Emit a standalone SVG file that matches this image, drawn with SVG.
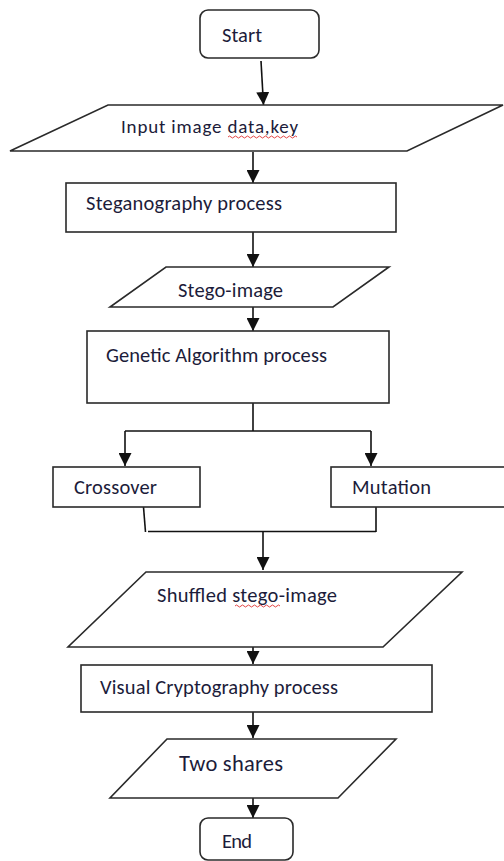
<svg xmlns="http://www.w3.org/2000/svg" width="504" height="861" viewBox="0 0 504 861">
  <style>
    .shape { fill: #ffffff; stroke: #2a2a2a; stroke-width: 1.6; }
    .link { fill: none; stroke: #111111; stroke-width: 1.6; }
    .label { font-family: Calibri, Carlito, "Liberation Sans", Arial, sans-serif; font-size: 20.5px; fill: #1c1c3a; }
    .squiggle { fill: none; stroke: #e03030; stroke-width: 0.9; }
  </style>
  <defs>
    <marker id="arrow" markerUnits="userSpaceOnUse" markerWidth="13" markerHeight="13" refX="13" refY="6.5" orient="auto">
      <path d="M0,0 L13,6.5 L0,13 Z" fill="#111111"/>
    </marker>
  </defs>
  <rect width="504" height="861" fill="#ffffff"/>

  <!-- connectors -->
  <g id="connectors">
    <path class="link" d="M261,61 L263.5,105" marker-end="url(#arrow)"/>
    <path class="link" d="M253,152 L253,183" marker-end="url(#arrow)"/>
    <path class="link" d="M253,232 L253,267" marker-end="url(#arrow)"/>
    <path class="link" d="M253,307 L253,331" marker-end="url(#arrow)"/>
    <path class="link" d="M253,403 L253,431"/>
    <path class="link" d="M125,431 L371,431"/>
    <path class="link" d="M125,431 L125,466" marker-end="url(#arrow)"/>
    <path class="link" d="M371,431 L371,466" marker-end="url(#arrow)"/>
    <path class="link" d="M143.5,507 L145.5,532"/>
    <path class="link" d="M148,531.5 L376,531.5"/>
    <path class="link" d="M376,507 L376,532"/>
    <path class="link" d="M263,531.5 L263,570" marker-end="url(#arrow)"/>
    <path class="link" d="M253,635 L253,664" marker-end="url(#arrow)"/>
    <path class="link" d="M253,712 L253,738" marker-end="url(#arrow)"/>
    <path class="link" d="M253,798 L253,818" marker-end="url(#arrow)"/>
  </g>

  <g id="start">
    <rect class="shape" x="200" y="10" width="119" height="48" rx="8" ry="8"/>
    <text class="label" x="222" y="42" textLength="40" lengthAdjust="spacing">Start</text>
  </g>

  <g id="input">
    <polygon class="shape" points="108,105 503,105 407,151 10,151"/>
    <text class="label" x="121" y="133" style="font-size:19px" textLength="177" lengthAdjust="spacing">Input image data,key</text>
    <path class="squiggle" d="M228,137 q1.5,-2 3,0 t3,0 t3,0 t3,0 t3,0 t3,0 t3,0 t3,0 t3,0 t3,0 t3,0 t3,0 t3,0 t3,0 t3,0 t3,0 t3,0 t3,0 t3,0 t3,0 t3,0 t3,0 t3,0"/>
  </g>

  <g id="steganography">
    <rect class="shape" x="66" y="183" width="330" height="49"/>
    <text class="label" x="86" y="210" textLength="196" lengthAdjust="spacing">Steganography process</text>
  </g>

  <g id="stego-image">
    <polygon class="shape" points="166,267 389,267 333,307 110,307"/>
    <text class="label" x="178" y="296.5" textLength="105" lengthAdjust="spacing">Stego-image</text>
  </g>

  <g id="genetic">
    <rect class="shape" x="87" y="331" width="302" height="72"/>
    <text class="label" x="106" y="361.5" textLength="221" lengthAdjust="spacing">Genetic Algorithm process</text>
  </g>

  <g id="crossover">
    <rect class="shape" x="53" y="467" width="147" height="40"/>
    <text class="label" x="74" y="494" textLength="83" lengthAdjust="spacing">Crossover</text>
  </g>

  <g id="mutation">
    <rect class="shape" x="331" y="467" width="180" height="40"/>
    <text class="label" x="352" y="494" textLength="79" lengthAdjust="spacing">Mutation</text>
  </g>

  <g id="shuffled">
    <polygon class="shape" points="146,572 462,572 383,647 68,647"/>
    <text class="label" x="157" y="601.5" textLength="180" lengthAdjust="spacing">Shuffled stego-image</text>
    <path class="squiggle" d="M235,606 q1.5,-2 3,0 t3,0 t3,0 t3,0 t3,0 t3,0 t3,0 t3,0 t3,0 t3,0 t3,0 t3,0 t3,0 t3,0 t3,0"/>
  </g>

  <g id="visual-cryptography">
    <rect class="shape" x="81" y="665" width="351" height="47"/>
    <text class="label" x="100" y="693.5" textLength="238" lengthAdjust="spacing">Visual Cryptography process</text>
  </g>

  <g id="two-shares">
    <polygon class="shape" points="167,739 396,739 338,798 110,798"/>
    <text class="label" x="179" y="771" style="font-size:22.5px" textLength="104" lengthAdjust="spacing">Two shares</text>
  </g>

  <g id="end">
    <rect class="shape" x="200" y="818" width="93" height="42" rx="8" ry="8"/>
    <text class="label" x="222" y="848" textLength="30" lengthAdjust="spacing">End</text>
  </g>
</svg>
